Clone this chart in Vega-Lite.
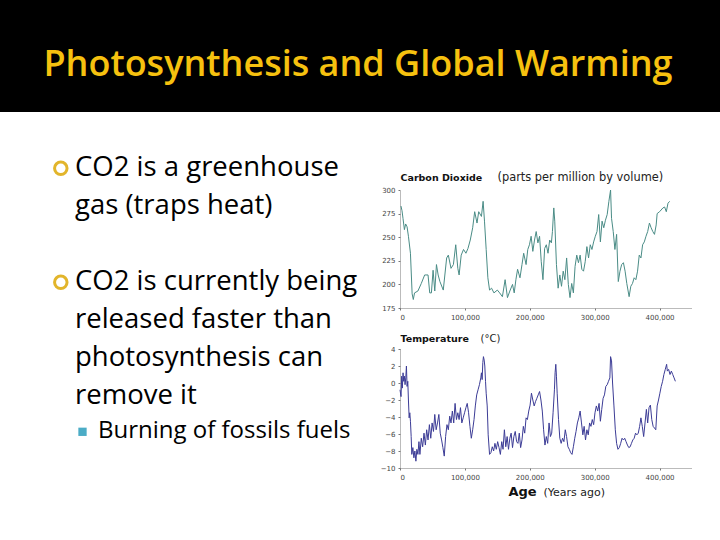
{
"$schema": "https://vega.github.io/schema/vega-lite/v6.json",
"background": "white",
"padding": 0,
"spacing": 0,
"config": {
  "view": {"stroke": null},
  "concat": {"spacing": 0},
  "axis": {"labelFont": "DejaVu Sans", "labelFontSize": 7, "labelColor": "#444", "domainColor": "#777", "domainDash": [1, 1], "tickColor": "#777", "tickSize": 2, "grid": false, "labelPadding": 3, "titleFont": "DejaVu Sans", "titleColor": "#111"}
},
"datasets": {
  "bullets": [
    {"line": 1, "level": 1, "text": "CO2 is a greenhouse", "bullet": "main"},
    {"line": 2, "level": 1, "text": "gas (traps heat)", "bullet": "none"},
    {"line": 4, "level": 1, "text": "CO2 is currently being", "bullet": "main"},
    {"line": 5, "level": 1, "text": "released faster than", "bullet": "none"},
    {"line": 6, "level": 1, "text": "photosynthesis can", "bullet": "none"},
    {"line": 7, "level": 1, "text": "remove it", "bullet": "none"},
    {"line": 8, "level": 2, "text": "Burning of fossils fuels", "bullet": "sub"}
  ],
  "co2": [
    {"age":1500,"ppm":283},{"age":3100,"ppm":278},{"age":4600,"ppm":270},{"age":6800,"ppm":258},{"age":8700,"ppm":264},{"age":10900,"ppm":261},{"age":13000,"ppm":251},{"age":16100,"ppm":233},{"age":18700,"ppm":190},{"age":20500,"ppm":184},
    {"age":22400,"ppm":191},{"age":27600,"ppm":193},{"age":32800,"ppm":201},{"age":38000,"ppm":210},{"age":43200,"ppm":210},{"age":45800,"ppm":191},{"age":48400,"ppm":191},{"age":51000,"ppm":215},{"age":53600,"ppm":193},{"age":56200,"ppm":221},
    {"age":58800,"ppm":210},{"age":61500,"ppm":203},{"age":66700,"ppm":194},{"age":71900,"ppm":228},{"age":74500,"ppm":231},{"age":78600,"ppm":217},{"age":82300,"ppm":221},{"age":85900,"ppm":242},{"age":89100,"ppm":217},{"age":91100,"ppm":210},
    {"age":94300,"ppm":231},{"age":97900,"ppm":237},{"age":101600,"ppm":233},{"age":104700,"ppm":238},{"age":108300,"ppm":247},{"age":112000,"ppm":260},{"age":115100,"ppm":277},{"age":118700,"ppm":265},{"age":121300,"ppm":277},{"age":125500,"ppm":272},
    {"age":128100,"ppm":288},{"age":130200,"ppm":267},{"age":132800,"ppm":237},{"age":135400,"ppm":207},{"age":138000,"ppm":194},{"age":141100,"ppm":196},{"age":144800,"ppm":191},{"age":150000,"ppm":194},{"age":153600,"ppm":191},{"age":157800,"ppm":187},
    {"age":162000,"ppm":205},{"age":165600,"ppm":186},{"age":169300,"ppm":193},{"age":173400,"ppm":200},{"age":176000,"ppm":191},{"age":178600,"ppm":205},{"age":181200,"ppm":216},{"age":184900,"ppm":207},{"age":188000,"ppm":221},{"age":190600,"ppm":233},
    {"age":194300,"ppm":221},{"age":196900,"ppm":237},{"age":199500,"ppm":242},{"age":202100,"ppm":251},{"age":204700,"ppm":235},{"age":207300,"ppm":247},{"age":209900,"ppm":256},{"age":212500,"ppm":244},{"age":215100,"ppm":251},{"age":217700,"ppm":224},
    {"age":220300,"ppm":205},{"age":222900,"ppm":238},{"age":225500,"ppm":242},{"age":228100,"ppm":233},{"age":230700,"ppm":247},{"age":233300,"ppm":244},{"age":234900,"ppm":256},{"age":237000,"ppm":281},{"age":238500,"ppm":267},{"age":241100,"ppm":221},
    {"age":243700,"ppm":196},{"age":246300,"ppm":210},{"age":248900,"ppm":198},{"age":251500,"ppm":214},{"age":254100,"ppm":205},{"age":256800,"ppm":228},{"age":259400,"ppm":200},{"age":262000,"ppm":186},{"age":264600,"ppm":201},{"age":267200,"ppm":191},
    {"age":269800,"ppm":219},{"age":272400,"ppm":231},{"age":275000,"ppm":223},{"age":277600,"ppm":231},{"age":280200,"ppm":216},{"age":282800,"ppm":214},{"age":285400,"ppm":224},{"age":288000,"ppm":240},{"age":290600,"ppm":228},{"age":293200,"ppm":242},
    {"age":295800,"ppm":237},{"age":298400,"ppm":245},{"age":301000,"ppm":251},{"age":303600,"ppm":256},{"age":306200,"ppm":274},{"age":308800,"ppm":245},{"age":311400,"ppm":267},{"age":314000,"ppm":260},{"age":316600,"ppm":268},{"age":319300,"ppm":274},
    {"age":321900,"ppm":288},{"age":324500,"ppm":300},{"age":326000,"ppm":270},{"age":328600,"ppm":256},{"age":331200,"ppm":237},{"age":333800,"ppm":253},{"age":336400,"ppm":203},{"age":339000,"ppm":214},{"age":341600,"ppm":221},{"age":344300,"ppm":223},
    {"age":346900,"ppm":214},{"age":349500,"ppm":201},{"age":353100,"ppm":187},{"age":355700,"ppm":198},{"age":358300,"ppm":201},{"age":360900,"ppm":207},{"age":363500,"ppm":205},{"age":366100,"ppm":214},{"age":368700,"ppm":231},{"age":371300,"ppm":228},
    {"age":373900,"ppm":242},{"age":376500,"ppm":245},{"age":379100,"ppm":251},{"age":381700,"ppm":256},{"age":384400,"ppm":265},{"age":387000,"ppm":260},{"age":389600,"ppm":256},{"age":392200,"ppm":253},{"age":394800,"ppm":263},{"age":396300,"ppm":275},
    {"age":400000,"ppm":277},{"age":405200,"ppm":281},{"age":407800,"ppm":282},{"age":410400,"ppm":277},{"age":413000,"ppm":286},{"age":415600,"ppm":288}
  ],
  "temp": [
    {"age":0,"t":-0.8},{"age":1600,"t":-1.6},{"age":2600,"t":0.8},{"age":3600,"t":-0.6},{"age":4700,"t":1.2},{"age":5700,"t":0.2},{"age":6800,"t":0.8},{"age":7800,"t":-0.2},{"age":8900,"t":0.6},{"age":9900,"t":2.0},
    {"age":10900,"t":-0.4},{"age":12000,"t":0.2},{"age":13000,"t":-2.0},{"age":14100,"t":-4.1},{"age":15100,"t":-3.5},{"age":16100,"t":-4.5},{"age":17200,"t":-6.3},{"age":18200,"t":-8.4},{"age":19800,"t":-7.6},{"age":21400,"t":-8.8},
    {"age":22900,"t":-8.0},{"age":24500,"t":-9.2},{"age":26000,"t":-7.8},{"age":27600,"t":-8.4},{"age":29200,"t":-6.9},{"age":30700,"t":-8.4},{"age":32800,"t":-6.5},{"age":34900,"t":-7.5},{"age":37000,"t":-5.9},{"age":39100,"t":-7.3},
    {"age":41100,"t":-5.5},{"age":43200,"t":-6.7},{"age":45300,"t":-4.9},{"age":47400,"t":-6.5},{"age":49500,"t":-4.7},{"age":51600,"t":-5.7},{"age":53600,"t":-3.7},{"age":55700,"t":-5.5},{"age":57800,"t":-4.7},{"age":59900,"t":-3.7},
    {"age":62000,"t":-5.9},{"age":64100,"t":-6.7},{"age":66100,"t":-7.6},{"age":68200,"t":-8.6},{"age":70300,"t":-6.3},{"age":72400,"t":-4.9},{"age":74500,"t":-5.5},{"age":76600,"t":-3.9},{"age":78600,"t":-4.7},{"age":80700,"t":-3.3},
    {"age":82800,"t":-4.7},{"age":84900,"t":-2.4},{"age":87000,"t":-4.3},{"age":89100,"t":-3.5},{"age":91100,"t":-4.3},{"age":93200,"t":-2.9},{"age":95300,"t":-4.7},{"age":97400,"t":-4.1},{"age":99500,"t":-3.5},{"age":101600,"t":-2.9},
    {"age":103600,"t":-2.4},{"age":105700,"t":-3.5},{"age":107800,"t":-5.1},{"age":109900,"t":-6.5},{"age":112000,"t":-5.5},{"age":114100,"t":-4.3},{"age":116100,"t":-2.7},{"age":118200,"t":-1.4},{"age":120300,"t":-0.8},{"age":122400,"t":-0.2},
    {"age":124500,"t":0.6},{"age":125500,"t":1.2},{"age":126600,"t":0.4},{"age":127600,"t":2.4},{"age":128600,"t":3.1},{"age":129700,"t":2.7},{"age":130700,"t":2.0},{"age":131800,"t":0.2},{"age":132800,"t":-1.2},{"age":134400,"t":-2.7},
    {"age":135900,"t":-6.1},{"age":138000,"t":-8.4},{"age":140100,"t":-8.2},{"age":142200,"t":-7.5},{"age":144300,"t":-8.0},{"age":146300,"t":-7.1},{"age":148400,"t":-7.8},{"age":150500,"t":-6.9},{"age":152600,"t":-7.6},{"age":154700,"t":-8.4},
    {"age":156800,"t":-6.9},{"age":158800,"t":-7.8},{"age":160900,"t":-5.5},{"age":163000,"t":-7.5},{"age":165100,"t":-6.3},{"age":167200,"t":-7.8},{"age":169300,"t":-6.5},{"age":171300,"t":-5.9},{"age":173400,"t":-7.6},{"age":175500,"t":-6.3},
    {"age":177600,"t":-5.7},{"age":179700,"t":-6.9},{"age":181800,"t":-7.1},{"age":183800,"t":-5.9},{"age":185900,"t":-7.6},{"age":188000,"t":-6.7},{"age":190100,"t":-5.1},{"age":192200,"t":-5.9},{"age":194300,"t":-4.1},{"age":196300,"t":-4.3},
    {"age":198400,"t":-3.3},{"age":200500,"t":-2.6},{"age":202600,"t":-1.2},{"age":204700,"t":-2.0},{"age":206800,"t":-2.7},{"age":208800,"t":-2.2},{"age":210900,"t":-1.8},{"age":213000,"t":-1.4},{"age":215100,"t":-1.0},{"age":217200,"t":-2.0},
    {"age":219300,"t":-3.3},{"age":221300,"t":-5.5},{"age":223400,"t":-7.3},{"age":225500,"t":-6.3},{"age":227600,"t":-7.1},{"age":229700,"t":-4.7},{"age":231800,"t":-6.3},{"age":233800,"t":-5.9},{"age":235900,"t":-3.5},{"age":238000,"t":-0.8},
    {"age":239000,"t":1.2},{"age":240100,"t":2.2},{"age":241100,"t":0.8},{"age":242200,"t":-1.2},{"age":244300,"t":-4.3},{"age":246300,"t":-6.5},{"age":248400,"t":-7.1},{"age":250500,"t":-6.5},{"age":252600,"t":-6.9},{"age":254700,"t":-5.5},
    {"age":256700,"t":-6.3},{"age":258800,"t":-7.5},{"age":260900,"t":-7.8},{"age":263000,"t":-8.2},{"age":265100,"t":-8.4},{"age":267200,"t":-7.5},{"age":269300,"t":-6.5},{"age":271300,"t":-5.7},{"age":273400,"t":-4.7},{"age":275500,"t":-4.1},
    {"age":277600,"t":-3.3},{"age":279700,"t":-4.7},{"age":281800,"t":-6.1},{"age":283800,"t":-5.1},{"age":285900,"t":-6.7},{"age":288000,"t":-5.5},{"age":290100,"t":-6.1},{"age":292200,"t":-4.7},{"age":294300,"t":-5.1},{"age":296300,"t":-4.3},
    {"age":298400,"t":-4.9},{"age":300500,"t":-3.5},{"age":302600,"t":-2.7},{"age":304700,"t":-3.3},{"age":306800,"t":-2.4},{"age":308800,"t":-4.5},{"age":310900,"t":-3.1},{"age":313000,"t":-1.8},{"age":315100,"t":-1.4},{"age":317200,"t":-0.4},
    {"age":319300,"t":-0.2},{"age":321300,"t":0.2},{"age":323400,"t":0.6},{"age":324500,"t":3.1},{"age":326000,"t":2.6},{"age":327600,"t":0.0},{"age":329700,"t":-2.7},{"age":331800,"t":-5.5},{"age":333800,"t":-7.1},{"age":335900,"t":-7.8},
    {"age":338000,"t":-7.6},{"age":340100,"t":-7.1},{"age":342200,"t":-6.5},{"age":344300,"t":-6.7},{"age":346300,"t":-6.5},{"age":348400,"t":-6.9},{"age":350500,"t":-7.3},{"age":352600,"t":-7.6},{"age":354700,"t":-7.5},{"age":356700,"t":-7.1},
    {"age":358800,"t":-6.7},{"age":360900,"t":-6.5},{"age":363000,"t":-5.9},{"age":365100,"t":-6.1},{"age":367200,"t":-5.9},{"age":369300,"t":-5.1},{"age":371300,"t":-4.1},{"age":373400,"t":-5.1},{"age":375500,"t":-6.3},{"age":377600,"t":-4.7},
    {"age":379700,"t":-3.1},{"age":381700,"t":-4.7},{"age":383800,"t":-2.9},{"age":385900,"t":-2.6},{"age":388000,"t":-4.3},{"age":390100,"t":-5.1},{"age":392200,"t":-5.3},{"age":394200,"t":-5.5},{"age":396300,"t":-2.7},{"age":398400,"t":-2.0},
    {"age":400500,"t":-1.2},{"age":402600,"t":-0.4},{"age":404700,"t":0.2},{"age":406700,"t":1.0},{"age":408800,"t":1.6},{"age":410900,"t":2.2},{"age":412000,"t":1.4},{"age":414000,"t":1.6},{"age":416100,"t":1.0},{"age":418200,"t":1.4},
    {"age":420300,"t":1.0},{"age":422400,"t":0.6},{"age":424400,"t":0.2}
  ]
},
"vconcat": [
  {
    "width": 720, "height": 112,
    "view": {"fill": "black", "stroke": null},
    "data": {"values": [{"title": "Photosynthesis and Global Warming"}]},
    "mark": {"type": "text", "font": "Open Sans", "fontSize": 36, "fontWeight": 600, "color": "#F6C10F", "baseline": "alphabetic", "align": "center", "dy": 20, "dx": -2},
    "encoding": {"text": {"field": "title"}}
  },
  {
    "spacing": 0,
    "hconcat": [
      {
        "width": 380, "height": 428,
        "data": {"name": "bullets"},
        "encoding": {
          "x": {"field": "level", "type": "quantitative", "scale": {"domain": [-2.26087, 14.26087], "nice": false, "zero": false}, "axis": null},
          "y": {"field": "line", "type": "quantitative", "scale": {"domain": [-0.68421, 10.57895], "nice": false, "zero": false, "reverse": true}, "axis": null}
        },
        "layer": [
          {"transform": [{"filter": "datum.level == 1"}], "mark": {"type": "text", "align": "left", "baseline": "alphabetic", "font": "Open Sans", "fontSize": 27.5, "color": "#000"}, "encoding": {"text": {"field": "text"}}},
          {"transform": [{"filter": "datum.level == 2"}], "mark": {"type": "text", "align": "left", "baseline": "alphabetic", "font": "Open Sans", "fontSize": 24, "dy": -4, "color": "#000"}, "encoding": {"text": {"field": "text"}}},
          {"transform": [{"filter": "datum.bullet == 'main'"}], "mark": {"type": "point", "shape": "circle", "filled": false, "size": 156, "strokeWidth": 3, "color": "#E2B52B", "opacity": 1, "xOffset": -14.2, "yOffset": -7.7}},
          {"transform": [{"filter": "datum.bullet == 'sub'"}], "mark": {"type": "square", "size": 69, "color": "#4BACC6", "opacity": 1, "xOffset": -15.5, "yOffset": -10.2}}
        ]
      },
      {
        "spacing": 13,
        "vconcat": [
          {"width": 10, "height": 46, "data": {"values": [{"t": ""}]}, "mark": {"type": "text"}, "encoding": {"text": {"field": "t"}}},
          {
            "width": 292, "height": 118,
            "data": {"name": "co2"},
            "mark": {"type": "line", "color": "#4a8c86", "strokeWidth": 1},
            "encoding": {
              "x": {"field": "age", "type": "quantitative", "scale": {"domain": [0, 450000], "nice": false},
                    "axis": {"values": [0, 100000, 200000, 300000, 400000], "format": ",d", "title": "Carbon Dioxide", "titleFontWeight": "bold", "titleFontSize": 9.5, "titleX": 0, "titleY": -128, "titleAlign": "left", "titleBaseline": "alphabetic", "titleAngle": 0}},
              "y": {"field": "ppm", "type": "quantitative", "scale": {"domain": [175, 300], "nice": false, "zero": false},
                    "axis": {"values": [175, 200, 225, 250, 275, 300], "title": "(parts per million by volume)", "titleFontWeight": "normal", "titleFontSize": 11.4, "titleAngle": 0, "titleX": 97, "titleY": -10, "titleAlign": "left", "titleBaseline": "alphabetic", "titleColor": "#222"}}
            }
          },
          {
            "width": 292, "height": 119,
            "data": {"name": "temp"},
            "layer": [
              {
                "mark": {"type": "line", "color": "#3c3c96", "strokeWidth": 1},
                "encoding": {
                  "x": {"field": "age", "type": "quantitative", "scale": {"domain": [0, 450000], "nice": false},
                        "axis": {"orient": "bottom", "values": [0, 100000, 200000, 300000, 400000], "format": ",d", "title": "Age", "titleFontWeight": "bold", "titleFontSize": 13, "titleX": 108, "titleY": 27, "titleAlign": "left", "titleBaseline": "alphabetic", "titleAngle": 0}},
                  "y": {"field": "t", "type": "quantitative", "scale": {"domain": [-10, 4], "nice": false, "zero": false},
                        "axis": {"orient": "left", "values": [-10, -8, -6, -4, -2, 0, 2, 4], "title": "Temperature", "titleFontWeight": "bold", "titleFontSize": 9.5, "titleAngle": 0, "titleX": 0, "titleY": -8, "titleAlign": "left", "titleBaseline": "alphabetic"}}
                }
              },
              {
                "mark": {"type": "line", "strokeOpacity": 0},
                "encoding": {
                  "x": {"field": "age", "type": "quantitative",
                        "axis": {"orient": "bottom", "labels": false, "ticks": false, "domain": false, "title": "(Years ago)", "titleFontWeight": "normal", "titleFontSize": 11, "titleX": 143, "titleY": 27, "titleAlign": "left", "titleBaseline": "alphabetic", "titleAngle": 0, "titleColor": "#222"}},
                  "y": {"field": "t", "type": "quantitative",
                        "axis": {"orient": "left", "labels": false, "ticks": false, "domain": false, "title": "(°C)", "titleFontWeight": "normal", "titleFontSize": 10, "titleAngle": 0, "titleX": 80, "titleY": -8, "titleAlign": "left", "titleBaseline": "alphabetic", "titleColor": "#222"}}
                }
              }
            ],
            "resolve": {"axis": {"x": "independent", "y": "independent"}}
          }
        ]
      }
    ]
  }
]
}
